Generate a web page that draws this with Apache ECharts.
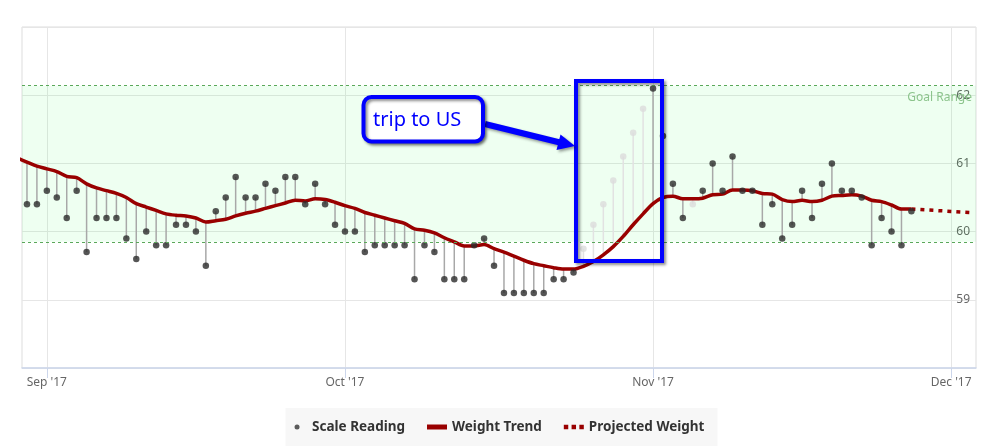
<!DOCTYPE html>
<html><head><meta charset="utf-8">
<script src="https://cdn.jsdelivr.net/npm/echarts@6/dist/echarts.min.js"></script>
<style>html,body{margin:0;padding:0;background:#fff}#c{width:999px;height:448px}</style>
</head><body><div id="c"></div><script>
// ---- data ----
const days = [
 '2017-08-29','2017-08-30','2017-08-31',
 '2017-09-01','2017-09-02','2017-09-03','2017-09-04','2017-09-05','2017-09-06','2017-09-07','2017-09-08','2017-09-09','2017-09-10',
 '2017-09-11','2017-09-12','2017-09-13','2017-09-14','2017-09-15','2017-09-16','2017-09-17','2017-09-18','2017-09-19','2017-09-20',
 '2017-09-21','2017-09-22','2017-09-23','2017-09-24','2017-09-25','2017-09-26','2017-09-27','2017-09-28','2017-09-29','2017-09-30',
 '2017-10-01','2017-10-02','2017-10-03','2017-10-04','2017-10-05','2017-10-06','2017-10-07','2017-10-08','2017-10-09','2017-10-10',
 '2017-10-11','2017-10-12','2017-10-13','2017-10-14','2017-10-15','2017-10-16','2017-10-17','2017-10-18','2017-10-19','2017-10-20',
 '2017-10-21','2017-10-22','2017-10-23','2017-10-24','2017-10-25','2017-10-26','2017-10-27','2017-10-28','2017-10-29','2017-10-30','2017-10-31',
 '2017-11-01','2017-11-02','2017-11-03','2017-11-04','2017-11-05','2017-11-06','2017-11-07','2017-11-08','2017-11-09','2017-11-10',
 '2017-11-11','2017-11-12','2017-11-13','2017-11-14','2017-11-15','2017-11-16','2017-11-17','2017-11-18','2017-11-19','2017-11-20',
 '2017-11-21','2017-11-22','2017-11-23','2017-11-24','2017-11-25','2017-11-26','2017-11-27'
];
const scaleReading = [
 null, 60.4, 60.4,
 60.6, 60.5, 60.2, 60.6, 59.7, 60.2, 60.2, 60.2, 59.9, 59.6,
 60.0, 59.8, 59.8, 60.1, 60.1, 60.0, 59.5, 60.3, 60.5, 60.8,
 60.5, 60.5, 60.7, 60.6, 60.8, 60.8, 60.4, 60.7, 60.4, 60.1,
 60.0, 60.0, 59.7, 59.8, 59.8, 59.8, 59.8, 59.3, 59.8, 59.7,
 59.3, 59.3, 59.3, 59.8, 59.9, 59.5, 59.1, 59.1, 59.1, 59.1,
 59.1, 59.3, 59.3, 59.4, 59.75, 60.1, 60.4, 60.75, 61.1, 61.45, 61.8,
 62.1, 61.4, 60.7, 60.2, 60.4, 60.6, 61.0, 60.6, 61.1, 60.6,
 60.6, 60.1, 60.4, 59.9, 60.1, 60.6, 60.2, 60.7, 61.0, 60.6,
 60.6, 60.5, 59.8, 60.2, 60.0, 59.8, 60.3
];
// 1 = day without a real weigh-in (shown faded)
const noWeighIn = [
 0, 0, 0,
 0,0,0,0,0,0,0,0,0,0,
 0,0,0,0,0,0,0,0,0,0,
 0,0,0,0,0,0,0,0,0,0,
 0,0,0,0,0,0,0,0,0,0,
 0,0,0,0,0,0,0,0,0,0,
 0,0,0,0,1,1,1,1,1,1,1,
 0,0,0,0,1,0,0,0,0,0,
 0,0,0,0,0,0,0,0,0,0,
 0,0,0,0,0,0,0
];
const weightTrend = [
 61.08, 61.02, 60.96,
 60.92, 60.88, 60.81, 60.79, 60.70, 60.64, 60.60, 60.56, 60.50, 60.41,
 60.36, 60.31, 60.26, 60.24, 60.23, 60.20, 60.14, 60.16, 60.18, 60.23,
 60.27, 60.30, 60.34, 60.38, 60.42, 60.46, 60.45, 60.48, 60.47, 60.43,
 60.38, 60.34, 60.28, 60.24, 60.20, 60.16, 60.12, 60.04, 60.02, 59.98,
 59.91, 59.85, 59.79, 59.79, 59.81, 59.75, 59.70, 59.64, 59.58, 59.53,
 59.50, 59.47, 59.45, 59.45, 59.49, 59.56, 59.66, 59.78, 59.93, 60.10, 60.26,
 60.41, 60.50, 60.52, 60.48, 60.48, 60.49, 60.54, 60.55, 60.61, 60.61,
 60.60, 60.56, 60.55, 60.47, 60.44, 60.46, 60.44, 60.46, 60.52, 60.53,
 60.54, 60.52, 60.46, 60.44, 60.39, 60.33, 60.33
];
const projectedDays = ['2017-11-27', '2017-12-03'];
const projectedWeight = [60.33, 60.28];
const goalRange = [59.85, 62.14];
const goalLabel = 'Goal Range';
const monthTicks = ['2017-09-01', '2017-10-01', '2017-11-01', '2017-12-01'];
const monthLabels = ["Sep '17", "Oct '17", "Nov '17", "Dec '17"];
const yTicks = [59, 60, 61, 62];
const xRange = ['2017-08-29T12:00:00Z', '2017-12-03T12:00:00Z'];
const yRange = [58, 63];

// ---- build ----
const P = s => Date.parse(s.length === 10 ? s + 'T00:00:00Z' : s);
const tickTimes = monthTicks.map(P);
const labelOf = {};
tickTimes.forEach((t, i) => labelOf[t] = monthLabels[i]);

const readingData = [], stemData = [];
days.forEach((d, i) => {
  if (scaleReading[i] == null) return;
  const faded = noWeighIn[i] === 1;
  readingData.push({
    value: [P(d), scaleReading[i]],
    itemStyle: { color: faded ? '#dcdcdc' : '#2b2b2b' }
  });
  stemData.push([P(d), scaleReading[i], weightTrend[i], noWeighIn[i]]);
});
const trendData = days.map((d, i) => [P(d), weightTrend[i]]);
const projData = projectedDays.map((d, i) => [P(d), projectedWeight[i]]);

const FONT = 'Noto Sans';
const chart = echarts.init(document.getElementById('c'), null, { renderer: 'canvas' });
chart.setOption({
  animation: false,
  backgroundColor: '#ffffff',
  textStyle: { fontFamily: FONT },
  grid: { left: 22, right: 23, top: 27, bottom: 80, show: true, borderColor: '#dddddd', borderWidth: 1, containLabel: false },
  xAxis: {
    type: 'value',
    min: P(xRange[0]), max: P(xRange[1]),
    axisLine: { lineStyle: { color: '#ccd6eb', width: 1.5 } },
    axisTick: { show: true, length: 10, lineStyle: { color: '#ccd6eb' }, customValues: tickTimes },
    splitLine: { show: true, lineStyle: { color: '#e6e6e6' } },
    axisLabel: {
      customValues: tickTimes, margin: 9, color: '#666666', fontSize: 12, fontFamily: FONT,
      formatter: v => labelOf[v] || ''
    }
  },
  yAxis: {
    type: 'value', position: 'right',
    min: yRange[0], max: yRange[1], interval: 1,
    axisLine: { show: false }, axisTick: { show: false },
    splitLine: { lineStyle: { color: '#e6e6e6' } },
    axisLabel: { inside: true, margin: 6, color: '#666666', fontSize: 12, fontFamily: FONT,
      customValues: yTicks, formatter: v => String(v) }
  },
  legend: {
    bottom: 2, left: 'center',
    backgroundColor: '#f7f7f7',
    padding: [12, 13, 12, 9],
    itemGap: 22, itemWidth: 20, itemHeight: 5,
    textStyle: { fontSize: 13.5, fontWeight: 'bold', color: '#333333', fontFamily: FONT },
    data: [
      { name: 'Scale Reading', icon: 'circle', itemStyle: { color: '#333333' } },
      { name: 'Weight Trend', icon: 'rect' },
      { name: 'Projected Weight', icon: 'path://M0,0h4v4h-4zM7,0h4v4h-4zM14,0h4v4h-4z' }
    ]
  },
  series: [
    {
      name: 'Goal', type: 'line', data: [], silent: true, z: 1,
      markArea: {
        silent: true,
        itemStyle: { color: 'rgba(0,255,40,0.065)' },
        label: { show: false },
        data: [[{ yAxis: goalRange[0] }, { yAxis: goalRange[1] }]]
      },
      markLine: {
        silent: true, symbol: 'none',
        lineStyle: { color: '#5aa85a', type: [3, 3], width: 1 },
        label: { show: false },
        data: [
          { yAxis: goalRange[0] },
          { yAxis: goalRange[1], name: goalLabel,
            label: { show: true, position: 'insideEndBottom', formatter: '{b}', distance: [4, 6],
              color: '#8cc48c', fontSize: 12, fontFamily: FONT } }
        ]
      }
    },
    {
      name: 'stems', type: 'custom', z: 2, silent: true,
      encode: { x: 0, y: [1, 2] },
      data: stemData,
      renderItem: (params, api) => {
        const a = api.coord([api.value(0), api.value(1)]);
        const b = api.coord([api.value(0), api.value(2)]);
        return {
          type: 'line',
          shape: { x1: a[0], y1: a[1], x2: b[0], y2: b[1] },
          style: { stroke: api.value(3) === 1 ? '#e2e2e2' : '#a8a8a8', lineWidth: 1.5 }
        };
      }
    },
    {
      name: 'Weight Trend', type: 'line', z: 3, data: trendData,
      showSymbol: false, symbol: 'none', smooth: 0.3,
      lineStyle: { color: '#990000', width: 3.5 },
      itemStyle: { color: '#990000' }
    },
    {
      name: 'Projected Weight', type: 'line', z: 3, data: projData,
      showSymbol: false, symbol: 'none',
      lineStyle: { color: '#990000', width: 3.5, type: [4, 5] },
      itemStyle: { color: '#990000' }
    },
    {
      name: 'Scale Reading', type: 'scatter', z: 4, data: readingData,
      symbol: 'circle', symbolSize: 6.5,
      itemStyle: { color: '#2b2b2b' }
    }
  ],
  graphic: [
    { type: 'rect', z: 100, shape: { x: 576, y: 81, width: 86, height: 180 },
      style: { fill: 'none', stroke: '#0000ff', lineWidth: 4, shadowBlur: 3, shadowColor: 'rgba(0,0,0,0.45)', shadowOffsetX: 2, shadowOffsetY: 2 } },
    { type: 'line', z: 100, shape: { x1: 485, y1: 124, x2: 560, y2: 142.5 },
      style: { stroke: '#0000ff', lineWidth: 6, shadowBlur: 3, shadowColor: 'rgba(0,0,0,0.4)', shadowOffsetX: 2, shadowOffsetY: 2 } },
    { type: 'polygon', z: 100, shape: { points: [[575, 146], [556.5, 150], [560.5, 134.5]] },
      style: { fill: '#0000ff', shadowBlur: 3, shadowColor: 'rgba(0,0,0,0.4)', shadowOffsetX: 2, shadowOffsetY: 2 } },
    { type: 'rect', z: 101, shape: { x: 363.5, y: 97, width: 119.5, height: 44.5, r: 8 },
      style: { fill: '#ffffff', stroke: '#0000ff', lineWidth: 4, shadowBlur: 3, shadowColor: 'rgba(0,0,0,0.45)', shadowOffsetX: 2, shadowOffsetY: 2 } },
    { type: 'text', z: 102, x: 373, y: 120,
      style: { text: 'trip to US', fill: '#0000ff', fontSize: 20, fontFamily: FONT, verticalAlign: 'middle', align: 'left' } }
  ]
});
</script></body></html>
